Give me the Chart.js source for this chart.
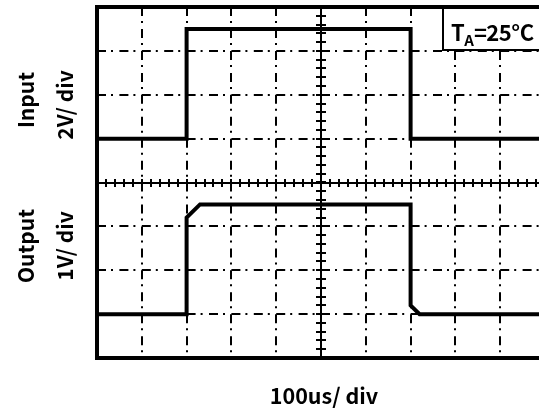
<!DOCTYPE html>
<html>
<head>
<meta charset="utf-8">
<script src="https://cdn.jsdelivr.net/npm/chart.js@4/dist/chart.umd.min.js"></script>
<style>
  html,body{margin:0;padding:0;background:#fff;}
  body{width:539px;height:408px;overflow:hidden;position:relative;font-family:"Noto Sans CJK SC","Noto Sans",sans-serif;font-weight:bold;color:#000;}
  #wrap{position:absolute;left:0;top:0;width:560px;height:408px;}
  .lbl{position:absolute;white-space:nowrap;line-height:1;}
  .rot{transform:translate(-50%,-50%) rotate(-90deg);}
  .ctr{transform:translate(-50%,-50%);}
  #ta{position:absolute;left:451px;top:20px;font-size:22px;line-height:1;white-space:nowrap;letter-spacing:-0.5px;}
  #ta sub{font-size:15px;vertical-align:-5px;line-height:0;letter-spacing:0;}
</style>
</head>
<body>
<div id="wrap"><canvas id="c" width="560" height="408"></canvas></div>
<div class="lbl rot" style="left:25px;top:100px;font-size:21px;">Input</div>
<div class="lbl rot" style="left:64px;top:105px;font-size:21px;">2V/ div</div>
<div class="lbl rot" style="left:25px;top:246px;font-size:21px;">Output</div>
<div class="lbl rot" style="left:64px;top:246px;font-size:21px;">1V/ div</div>
<div class="lbl ctr" style="left:324px;top:395px;font-size:21.5px;">100us/ div</div>
<div id="ta">T<sub>A</sub>=25°C</div>
<script>
// Values in screen divisions (x: 100us/div, y: center = 0)
const inputTime  = [0, 2, 2, 7, 7, 10];
const inputLevel = [1, 1, 3.5, 3.5, 1, 1];
const outputTime  = [0, 2, 2, 2.3, 7, 7, 7.2, 10];
const outputLevel = [-3, -3, -0.8, -0.5, -0.5, -2.8, -3, -3];
const xDivs = [0,1,2,3,4,5,6,7,8,9,10];
const yDivs = [-4,-3,-2,-1,0,1,2,3,4];

const toPts = (xs, ys) => xs.map((x, i) => ({x, y: ys[i]}));

const scopePlugin = {
  id: 'scope',
  beforeDatasetsDraw(chart) {
    const {ctx, chartArea: a, scales: {x, y}} = chart;
    ctx.save();
    ctx.strokeStyle = '#000';
    ctx.lineWidth = 2;
    ctx.lineCap = 'butt';
    // vertical dash-dot grid lines, restarting at every crossing
    ctx.setLineDash([9, 5, 2, 6]);
    xDivs.forEach(v => {
      if (v === 0 || v === 10 || v === 5) return;
      const px = Math.round(x.getPixelForValue(v));
      for (let j = 0; j < yDivs.length - 1; j++) {
        const y0 = y.getPixelForValue(yDivs[yDivs.length - 1 - j]);
        const y1 = y.getPixelForValue(yDivs[yDivs.length - 2 - j]);
        ctx.beginPath(); ctx.moveTo(px, y0); ctx.lineTo(px, y1); ctx.stroke();
      }
    });
    // horizontal dash-dot grid lines
    ctx.setLineDash([9, 5, 2, 6.4]);
    yDivs.forEach(v => {
      if (v === -4 || v === 4 || v === 0) return;
      const py = Math.round(y.getPixelForValue(v));
      for (let j = 0; j < xDivs.length - 1; j++) {
        const x0 = x.getPixelForValue(xDivs[j]);
        const x1 = x.getPixelForValue(xDivs[j + 1]);
        ctx.beginPath(); ctx.moveTo(x0, py); ctx.lineTo(x1, py); ctx.stroke();
      }
    });
    ctx.setLineDash([]);
    // centre axes with minor ticks
    const cx = Math.round(x.getPixelForValue(5));
    const cy = Math.round(y.getPixelForValue(0));
    ctx.beginPath(); ctx.moveTo(a.left, cy); ctx.lineTo(a.right, cy); ctx.stroke();
    ctx.beginPath(); ctx.moveTo(cx, a.top); ctx.lineTo(cx, a.bottom); ctx.stroke();
    for (let t = 0.2; t < 10; t += 0.2) {
      const px = Math.round(x.getPixelForValue(t));
      ctx.beginPath(); ctx.moveTo(px, cy - 4); ctx.lineTo(px, cy + 4); ctx.stroke();
    }
    for (let t = -3.8; t < 4; t += 0.2) {
      const py = Math.round(y.getPixelForValue(t));
      ctx.beginPath(); ctx.moveTo(cx - 5, py); ctx.lineTo(cx + 5, py); ctx.stroke();
    }
    ctx.restore();
  },
  afterDatasetsDraw(chart) {
    const {ctx, chartArea: a} = chart;
    ctx.save();
    // temperature box
    ctx.fillStyle = '#fff';
    ctx.strokeStyle = '#000';
    ctx.lineWidth = 2;
    ctx.fillRect(443, a.top, a.right - 443, 50 - a.top);
    ctx.strokeRect(443, a.top, a.right - 443, 50 - a.top);
    // screen frame
    ctx.lineWidth = 4;
    ctx.strokeRect(a.left, a.top, a.right - a.left, a.bottom - a.top);
    ctx.restore();
  }
};

new Chart(document.getElementById('c'), {
  type: 'scatter',
  data: {
    datasets: [
      {label: 'Input', data: toPts(inputTime, inputLevel), showLine: true,
       borderColor: '#000', borderWidth: 4, pointRadius: 0, borderJoinStyle: 'miter', tension: 0},
      {label: 'Output', data: toPts(outputTime, outputLevel), showLine: true,
       borderColor: '#000', borderWidth: 4, pointRadius: 0, borderJoinStyle: 'miter', tension: 0}
    ]
  },
  options: {
    responsive: false,
    animation: false,
    devicePixelRatio: 1,
    layout: {padding: {left: 97, top: 7, right: 15, bottom: 50}},
    plugins: {legend: {display: false}, tooltip: {enabled: false}},
    scales: {
      x: {type: 'linear', min: 0, max: 10, display: false},
      y: {type: 'linear', min: -4, max: 4, display: false}
    }
  },
  plugins: [scopePlugin]
});
</script>
</body>
</html>
